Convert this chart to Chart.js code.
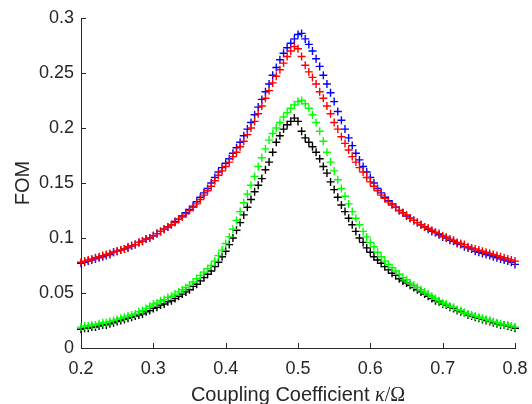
<!DOCTYPE html>
<html>
<head>
<meta charset="utf-8">
<script src="https://cdn.jsdelivr.net/npm/chart.js@4.4.0/dist/chart.umd.min.js"></script>
<style>
  html, body { margin: 0; padding: 0; background: #fff; }
  #wrap { width: 532px; height: 404px; position: relative; }
</style>
</head>
<body>
<div id="wrap"><canvas id="fomChart"></canvas></div>
<script>
// coupling coefficient kappa/Omega
const kappa = [
  0.200, 0.205, 0.210, 0.215, 0.220, 0.225, 0.230, 0.235, 0.240, 0.245,
  0.250, 0.255, 0.260, 0.265, 0.270, 0.275, 0.280, 0.285, 0.290, 0.295,
  0.300, 0.305, 0.310, 0.315, 0.320, 0.325, 0.330, 0.335, 0.340, 0.345,
  0.350, 0.355, 0.360, 0.365, 0.370, 0.375, 0.380, 0.385, 0.390, 0.395,
  0.400, 0.405, 0.410, 0.415, 0.420, 0.425, 0.430, 0.435, 0.440, 0.445,
  0.450, 0.455, 0.460, 0.465, 0.470, 0.475, 0.480, 0.485, 0.490, 0.495,
  0.500, 0.505, 0.510, 0.515, 0.520, 0.525, 0.530, 0.535, 0.540, 0.545,
  0.550, 0.555, 0.560, 0.565, 0.570, 0.575, 0.580, 0.585, 0.590, 0.595,
  0.600, 0.605, 0.610, 0.615, 0.620, 0.625, 0.630, 0.635, 0.640, 0.645,
  0.650, 0.655, 0.660, 0.665, 0.670, 0.675, 0.680, 0.685, 0.690, 0.695,
  0.700, 0.705, 0.710, 0.715, 0.720, 0.725, 0.730, 0.735, 0.740, 0.745,
  0.750, 0.755, 0.760, 0.765, 0.770, 0.775, 0.780, 0.785, 0.790, 0.795,
  0.800
];

// FOM, blue series
const fomBlue = [
  0.077, 0.078, 0.079, 0.080, 0.081, 0.082, 0.083, 0.084, 0.085, 0.087,
  0.088, 0.089, 0.090, 0.091, 0.093, 0.094, 0.096, 0.097, 0.099, 0.100,
  0.102, 0.104, 0.106, 0.108, 0.110, 0.112, 0.115, 0.117, 0.120, 0.123,
  0.126, 0.129, 0.133, 0.137, 0.141, 0.145, 0.150, 0.155, 0.160, 0.164,
  0.168, 0.172, 0.177, 0.182, 0.187, 0.193, 0.199, 0.205, 0.212, 0.219,
  0.226, 0.233, 0.240, 0.248, 0.255, 0.262, 0.268, 0.273, 0.277, 0.281,
  0.285, 0.286, 0.281, 0.276, 0.270, 0.263, 0.256, 0.248, 0.240, 0.232,
  0.224, 0.215, 0.207, 0.199, 0.191, 0.184, 0.177, 0.171, 0.165, 0.160,
  0.155, 0.150, 0.145, 0.141, 0.137, 0.134, 0.131, 0.128, 0.125, 0.123,
  0.120, 0.118, 0.116, 0.114, 0.112, 0.110, 0.108, 0.106, 0.105, 0.103,
  0.101, 0.100, 0.098, 0.097, 0.095, 0.094, 0.092, 0.091, 0.090, 0.088,
  0.087, 0.086, 0.085, 0.084, 0.083, 0.082, 0.081, 0.080, 0.079, 0.078,
  0.076
];

// FOM, red series
const fomRed = [
  0.078, 0.079, 0.080, 0.081, 0.082, 0.083, 0.084, 0.085, 0.086, 0.087,
  0.088, 0.089, 0.090, 0.092, 0.093, 0.094, 0.096, 0.097, 0.099, 0.100,
  0.102, 0.104, 0.106, 0.108, 0.110, 0.112, 0.114, 0.117, 0.119, 0.122,
  0.125, 0.128, 0.131, 0.135, 0.139, 0.143, 0.147, 0.152, 0.157, 0.161,
  0.165, 0.169, 0.174, 0.178, 0.183, 0.188, 0.194, 0.200, 0.206, 0.213,
  0.220, 0.227, 0.234, 0.241, 0.247, 0.253, 0.259, 0.265, 0.270, 0.274,
  0.272, 0.265, 0.257, 0.251, 0.246, 0.240, 0.233, 0.227, 0.220, 0.213,
  0.205, 0.199, 0.192, 0.186, 0.180, 0.174, 0.169, 0.164, 0.160, 0.155,
  0.151, 0.147, 0.143, 0.139, 0.136, 0.133, 0.130, 0.128, 0.125, 0.123,
  0.121, 0.118, 0.116, 0.114, 0.112, 0.110, 0.109, 0.107, 0.105, 0.104,
  0.102, 0.101, 0.099, 0.098, 0.096, 0.095, 0.094, 0.092, 0.091, 0.090,
  0.089, 0.088, 0.087, 0.086, 0.085, 0.084, 0.083, 0.082, 0.081, 0.080,
  0.079
];

// FOM, green series
const fomGreen = [
  0.019, 0.020, 0.020, 0.021, 0.021, 0.022, 0.023, 0.023, 0.024, 0.025,
  0.026, 0.027, 0.028, 0.029, 0.030, 0.031, 0.033, 0.034, 0.036, 0.038,
  0.040, 0.041, 0.043, 0.044, 0.046, 0.047, 0.049, 0.051, 0.053, 0.055,
  0.057, 0.060, 0.063, 0.066, 0.069, 0.072, 0.075, 0.079, 0.084, 0.089,
  0.095, 0.101, 0.108, 0.116, 0.124, 0.132, 0.140, 0.148, 0.156, 0.165,
  0.173, 0.181, 0.189, 0.195, 0.200, 0.205, 0.210, 0.214, 0.218, 0.221,
  0.224, 0.225, 0.222, 0.218, 0.212, 0.205, 0.197, 0.188, 0.178, 0.169,
  0.161, 0.153, 0.145, 0.138, 0.131, 0.124, 0.118, 0.112, 0.106, 0.101,
  0.096, 0.092, 0.087, 0.083, 0.079, 0.076, 0.073, 0.070, 0.067, 0.064,
  0.062, 0.059, 0.057, 0.055, 0.053, 0.051, 0.049, 0.047, 0.045, 0.043,
  0.041, 0.040, 0.038, 0.037, 0.035, 0.034, 0.032, 0.031, 0.030, 0.029,
  0.028, 0.027, 0.026, 0.025, 0.024, 0.023, 0.022, 0.021, 0.021, 0.020,
  0.019
];

// FOM, black series
const fomBlack = [
  0.017, 0.018, 0.018, 0.019, 0.019, 0.020, 0.021, 0.021, 0.022, 0.023,
  0.024, 0.025, 0.026, 0.027, 0.028, 0.029, 0.030, 0.031, 0.033, 0.034,
  0.036, 0.037, 0.039, 0.040, 0.042, 0.043, 0.045, 0.047, 0.049, 0.051,
  0.053, 0.056, 0.058, 0.061, 0.064, 0.067, 0.070, 0.074, 0.078, 0.083,
  0.088, 0.094, 0.100, 0.107, 0.114, 0.121, 0.128, 0.135, 0.142, 0.148,
  0.154, 0.162, 0.169, 0.178, 0.187, 0.193, 0.199, 0.203, 0.206, 0.209,
  0.206, 0.197, 0.191, 0.187, 0.183, 0.178, 0.172, 0.165, 0.159, 0.151,
  0.144, 0.137, 0.130, 0.124, 0.118, 0.112, 0.106, 0.100, 0.096, 0.091,
  0.087, 0.083, 0.080, 0.077, 0.074, 0.071, 0.068, 0.066, 0.063, 0.061,
  0.059, 0.057, 0.055, 0.053, 0.051, 0.049, 0.047, 0.045, 0.043, 0.042,
  0.040, 0.039, 0.037, 0.036, 0.034, 0.033, 0.032, 0.030, 0.029, 0.028,
  0.027, 0.026, 0.025, 0.024, 0.023, 0.022, 0.021, 0.021, 0.020, 0.019,
  0.018
];

// axis ticks
const xTicks = [0.2, 0.3, 0.4, 0.5, 0.6, 0.7, 0.8];
const xTickLabels = ['0.2', '0.3', '0.4', '0.5', '0.6', '0.7', '0.8'];
const yTicks = [0, 0.05, 0.1, 0.15, 0.2, 0.25, 0.3];
const yTickLabels = ['0', '0.05', '0.1', '0.15', '0.2', '0.25', '0.3'];

const AXIS = '#262626';
const SANS = '"Liberation Sans", Arial, Helvetica, sans-serif';
const SERIF = '"Liberation Serif", "DejaVu Serif", serif';

function toPoints(ys) {
    return kappa.map((k, i) => ({ x: k, y: ys[i] }));
}

function labelFor(ticks, labels, v) {
    const i = ticks.findIndex(t => Math.abs(t - v) < 1e-9);
    return i >= 0 ? labels[i] : '';
}

function markSeries(label, color, ys) {
    return {
        label: label,
        data: toPoints(ys),
        pointStyle: 'cross',
        pointRadius: 4,
        pointBorderWidth: 1.4,
        borderColor: color,
        backgroundColor: color,
        showLine: false,
        clip: false
    };
}

// inward tick marks and axis titles (MATLAB look)
const axisDecor = {
    id: 'axisDecor',
    afterDraw(chart) {
        const { ctx, chartArea: a, scales } = chart;
        ctx.save();
        ctx.strokeStyle = AXIS;
        ctx.lineWidth = 1;
        ctx.beginPath();
        xTicks.forEach(v => {
            const px = Math.round(scales.x.getPixelForValue(v)) + 0.5;
            ctx.moveTo(px, a.bottom);
            ctx.lineTo(px, a.bottom - 5);
        });
        yTicks.forEach(v => {
            const py = Math.round(scales.y.getPixelForValue(v)) + 0.5;
            ctx.moveTo(a.left, py);
            ctx.lineTo(a.left + 5, py);
        });
        ctx.stroke();

        ctx.fillStyle = AXIS;
        ctx.textBaseline = 'alphabetic';

        // x title: sans text + TeX-like kappa/Omega
        const parts = [
            { t: 'Coupling Coefficient ', f: '20px ' + SANS },
            { t: 'κ', f: 'italic 20px ' + SERIF },
            { t: '/Ω', f: '20px ' + SERIF }
        ];
        let total = 0;
        parts.forEach(p => { ctx.font = p.f; p.w = ctx.measureText(p.t).width; total += p.w; });
        let tx = (a.left + a.right) / 2 - total / 2;
        ctx.textAlign = 'left';
        parts.forEach(p => { ctx.font = p.f; ctx.fillText(p.t, tx, 401); tx += p.w; });

        // y title
        ctx.translate(29, (a.top + a.bottom) / 2);
        ctx.rotate(-Math.PI / 2);
        ctx.font = '20px ' + SANS;
        ctx.textAlign = 'center';
        ctx.fillText('FOM', 0, 0);
        ctx.restore();
    }
};

new Chart(document.getElementById('fomChart'), {
    type: 'scatter',
    data: {
        datasets: [
            markSeries('red', '#ff0000', fomRed),
            markSeries('blue', '#0000ff', fomBlue),
            markSeries('green', '#00ff00', fomGreen),
            markSeries('black', '#000000', fomBlack)
        ]
    },
    options: {
        responsive: true,
        maintainAspectRatio: false,
        animation: false,
        layout: { padding: { top: 18, right: 17, left: 0, bottom: 0 } },
        plugins: {
            legend: { display: false },
            tooltip: { enabled: false }
        },
        scales: {
            x: {
                type: 'linear',
                min: 0.2,
                max: 0.8,
                grid: { display: false, drawTicks: false },
                border: { display: true, color: AXIS, width: 1 },
                ticks: {
                    color: AXIS,
                    font: { family: SANS, size: 18 },
                    padding: 10,
                    autoSkip: false,
                    maxRotation: 0,
                    callback: v => labelFor(xTicks, xTickLabels, v)
                },
                afterBuildTicks: s => { s.ticks = xTicks.map(v => ({ value: v })); },
                afterFit: s => { s.height = 56; s.paddingLeft = 0; s.paddingRight = 0; }
            },
            y: {
                type: 'linear',
                min: 0,
                max: 0.3,
                grid: { display: false, drawTicks: false },
                border: { display: true, color: AXIS, width: 1 },
                ticks: {
                    color: AXIS,
                    font: { family: SANS, size: 18 },
                    padding: 7,
                    autoSkip: false,
                    callback: v => labelFor(yTicks, yTickLabels, v)
                },
                afterBuildTicks: s => { s.ticks = yTicks.map(v => ({ value: v })); },
                afterFit: s => { s.width = 81; s.paddingTop = 0; s.paddingBottom = 0; }
            }
        }
    },
    plugins: [axisDecor]
});
</script>
</body>
</html>
